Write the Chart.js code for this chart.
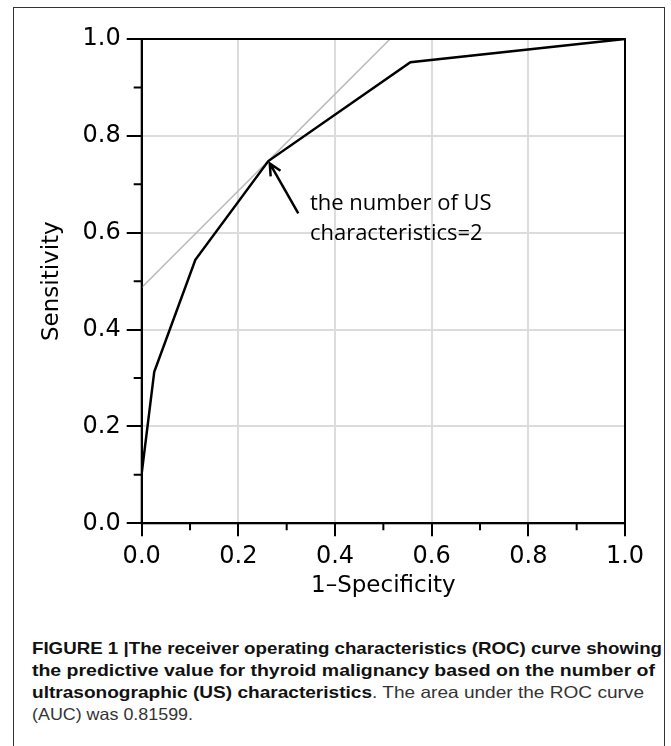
<!DOCTYPE html>
<html lang="en">
<head>
  <meta charset="UTF-8" />
  <title>ROC curve - US characteristics</title>
  <script src="https://cdn.jsdelivr.net/npm/chart.js"></script>
  <style>
    html, body { margin: 0; padding: 0; background: #fff; }
    body { width: 671px; height: 746px; position: relative; overflow: hidden; }
    .frame { position: absolute; left: 13px; top: 7px; width: 650px; height: 780px; border: 1px solid #333; }
    .chart-box { position: absolute; left: 0; top: 0; width: 671px; height: 600px; }
    .caption { position: absolute; left: 32px; top: 637px; font-family: "Liberation Sans", Arial, sans-serif; font-size: 16.5px; line-height: 22px; color: #111; }
    .caption .ln { display: block; white-space: nowrap; width: max-content; transform-origin: 0 0; }
    .caption b { font-weight: 700; }
    .caption .reg { color: #333; }
  </style>
</head>
<body>

  <div class="frame"></div>

  <!-- Chart -->
  <div class="chart-box">
    <canvas id="rocChart"></canvas>
  </div>

  <!-- Caption -->
  <div class="caption">
    <span class="ln"><b>FIGURE 1 |The receiver operating characteristics (ROC) curve showing</b></span>
    <span class="ln"><b>the predictive value for thyroid malignancy based on the number of</b></span>
    <span class="ln"><b>ultrasonographic (US) characteristics</b><span class="reg">. The area under the ROC curve</span></span>
    <span class="ln reg">(AUC) was 0.81599.</span>
  </div>

<script>
// values
const fprX = [0, 0.026, 0.111, 0.262, 0.556, 1.0];
const tprY = [0.103, 0.313, 0.544, 0.748, 0.952, 1.0];
const tangentX = [0, 0.514];
const tangentY = [0.487, 1.0];
const majorTicks = [0, 0.2, 0.4, 0.6, 0.8, 1.0];
const minorTicks = [0.1, 0.3, 0.5, 0.7, 0.9];
const noteLines = ['the number of US', 'characteristics=2'];
const noteX = 0.348;
const noteY = [0.647, 0.585];
const arrowFrom = [0.324, 0.640];
const arrowTo = [0.265, 0.743];

const rocPoints = fprX.map((v, i) => ({ x: v, y: tprY[i] }));
const tangentPoints = tangentX.map((v, i) => ({ x: v, y: tangentY[i] }));

// frame, minor ticks, arrow + note
const extras = {
  id: 'extras',
  afterDatasetsDraw(chart) {
    const { ctx, chartArea: a, scales: { x, y } } = chart;
    ctx.save();
    ctx.strokeStyle = '#000';
    ctx.lineWidth = 2;
    ctx.strokeRect(a.left, a.top, a.right - a.left, a.bottom - a.top);

    ctx.beginPath();
    minorTicks.forEach(v => {
      const px = x.getPixelForValue(v);
      const py = y.getPixelForValue(v);
      ctx.moveTo(px, a.bottom); ctx.lineTo(px, a.bottom + 7);
      ctx.moveTo(a.left, py); ctx.lineTo(a.left - 8, py);
    });
    ctx.stroke();

    // arrow
    const x0 = x.getPixelForValue(arrowFrom[0]), y0 = y.getPixelForValue(arrowFrom[1]);
    const x1 = x.getPixelForValue(arrowTo[0]), y1 = y.getPixelForValue(arrowTo[1]);
    const ang = Math.atan2(y0 - y1, x0 - x1);
    const head = 13, spread = 0.45;
    ctx.lineWidth = 2.5;
    ctx.lineCap = 'butt';
    ctx.beginPath();
    ctx.moveTo(x0, y0); ctx.lineTo(x1, y1);
    ctx.moveTo(x1 + head * Math.cos(ang - spread), y1 + head * Math.sin(ang - spread));
    ctx.lineTo(x1, y1);
    ctx.lineTo(x1 + head * Math.cos(ang + spread), y1 + head * Math.sin(ang + spread));
    ctx.stroke();

    ctx.fillStyle = '#000';
    ctx.font = '22px "Open Sans", sans-serif';
    ctx.textAlign = 'left';
    ctx.textBaseline = 'alphabetic';
    noteLines.forEach((t, i) => {
      ctx.fillText(t, x.getPixelForValue(noteX), y.getPixelForValue(noteY[i]));
    });
    ctx.restore();
  }
};

const axisFont = { family: '"DejaVu Sans", sans-serif', size: 24 };
const titleFont = { family: '"DejaVu Sans", sans-serif', size: 23 };

new Chart(document.getElementById('rocChart'), {
  type: 'scatter',
  data: {
    datasets: [
      {
        label: 'ROC',
        data: rocPoints,
        showLine: true,
        borderColor: '#000',
        borderWidth: 2.5,
        pointRadius: 0,
        tension: 0
      },
      {
        label: 'Tangent',
        data: tangentPoints,
        showLine: true,
        borderColor: '#b8b8b8',
        borderWidth: 1.5,
        pointRadius: 0,
        tension: 0
      }
    ]
  },
  options: {
    responsive: true,
    maintainAspectRatio: false,
    animation: false,
    events: [],
    layout: { padding: { left: 0, top: 39, right: 46, bottom: 0 } },
    plugins: {
      legend: { display: false },
      tooltip: { enabled: false }
    },
    scales: {
      x: {
        type: 'linear',
        min: 0,
        max: 1,
        afterBuildTicks: s => { s.ticks = majorTicks.map(v => ({ value: v })); },
        afterFit: s => { s.height = 76.7; },
        grid: { color: '#dcdcdc', lineWidth: 2, tickLength: 13, tickColor: '#000', tickWidth: 2 },
        border: { color: '#000', width: 2 },
        ticks: { color: '#000', font: axisFont, padding: 6, maxRotation: 0, callback: v => v.toFixed(1) },
        title: { display: true, text: '1–Specificity', color: '#000', font: titleFont, padding: { top: 3, bottom: 0 } }
      },
      y: {
        type: 'linear',
        min: 0,
        max: 1,
        afterBuildTicks: s => { s.ticks = majorTicks.map(v => ({ value: v })); },
        afterFit: s => { s.width = 141.7; },
        grid: { color: '#dcdcdc', lineWidth: 2, tickLength: 15, tickColor: '#000', tickWidth: 2 },
        border: { color: '#000', width: 2 },
        ticks: { color: '#000', font: axisFont, padding: 6, callback: v => v.toFixed(1) },
        title: { display: true, text: 'Sensitivity', color: '#000', font: titleFont, padding: { top: 38, bottom: 0 } }
      }
    }
  },
  plugins: [extras]
});

// fit caption lines to the widths seen in the figure
const capWidths = [630, 623, 612, 161];
document.querySelectorAll('.caption .ln').forEach((el, i) => {
  const w = el.getBoundingClientRect().width;
  el.style.transform = 'scaleX(' + (capWidths[i] / w) + ')';
});
</script>
</body>
</html>
